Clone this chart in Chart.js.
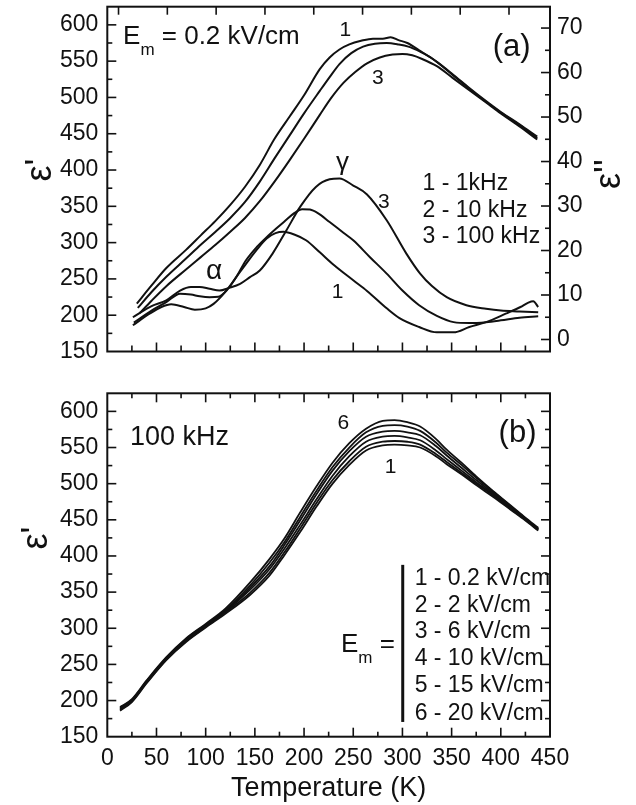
<!DOCTYPE html>
<html>
<head>
<meta charset="utf-8">
<script src="https://cdn.jsdelivr.net/npm/chart.js@4/dist/chart.umd.min.js"></script>
<style>
html,body{margin:0;padding:0;background:#fff;}
#wrap{position:relative;width:636px;height:805px;overflow:hidden;background:#fff;}
canvas{position:absolute;left:0;}
</style>
</head>
<body>
<div id="wrap">
<canvas id="ca" width="636" height="380" style="top:0;width:636px;height:380px"></canvas>
<canvas id="cb" width="636" height="425" style="top:380px;width:636px;height:425px"></canvas>
</div>
<script>
// ================= DATA =================
// tick labels
const tempTicks = [0, 50, 100, 150, 200, 250, 300, 350, 400, 450];
const epsRealTicks = [150, 200, 250, 300, 350, 400, 450, 500, 550, 600];
const epsImagTicks = [0, 10, 20, 30, 40, 50, 60, 70];

// Panel (a), Em = 0.2 kV/cm : eps' (left axis)
const tA_re1 = [30, 45, 60, 80, 95, 110, 125, 140, 155, 170, 185, 200, 216, 226, 236, 246, 258, 270, 280, 288, 296, 305, 317, 335, 351, 368, 385, 400, 419, 437];
const epsRe_1kHz = [216, 241, 265, 290, 310, 330, 352, 377, 407, 443, 473, 503, 539, 555, 566, 573, 578, 581, 581, 583, 579, 575, 565, 549, 532, 513, 495, 480, 463, 446];
const tA_re2 = [31, 45, 60, 80, 95, 110, 125, 140, 155, 170, 185, 200, 216, 226, 236, 248, 260, 272, 284, 296, 306, 318, 330, 351, 368, 385, 400, 419, 437];
const epsRe_10kHz = [210, 232, 253, 278, 297, 315, 334, 356, 384, 416, 447, 478, 509, 528, 546, 561, 570, 574, 575, 573, 570, 563, 554, 531, 512, 494, 479, 462, 444];
const tA_re3 = [33, 45, 60, 80, 95, 110, 125, 140, 155, 170, 185, 200, 216, 228, 240, 252, 264, 277, 290, 300, 310, 320, 335, 351, 368, 385, 400, 419, 437];
const epsRe_100kHz = [203, 220, 240, 263, 280, 297, 315, 334, 357, 384, 413, 443, 476, 500, 520, 535, 547, 555, 559, 560, 558, 553, 543, 527, 510, 493, 478, 460, 442];

// Panel (a) : eps'' (right axis)
const tA_im1 = [26, 43, 55, 65, 78, 89, 100, 108, 121, 131, 141, 152, 162, 171, 179, 190, 202, 216, 230, 250, 264, 284, 297, 317, 335, 352, 368, 385, 405, 420, 428, 433, 438];
const epsIm_1kHz = [3.2, 5.8, 7.3, 7.9, 7.3, 6.7, 7.0, 8.0, 11.0, 14.0, 17.0, 20.2, 22.7, 23.9, 24.2, 23.6, 22.3, 19.6, 16.8, 13.3, 10.9, 7.0, 4.8, 2.8, 1.6, 1.6, 2.8, 3.9, 5.8, 7.3, 8.3, 8.6, 7.3];
const tA_im2 = [27, 45, 60, 74, 85, 94, 104, 113, 122, 131, 141, 152, 162, 172, 182, 190, 198, 206, 214, 226, 240, 250, 267, 284, 300, 317, 335, 352, 368, 385, 400, 419, 438];
const epsIm_10kHz = [3.8, 6.5, 8.4, 10.3, 10.1, 9.7, 9.5, 9.6, 11.2, 14.0, 17.8, 20.8, 23.0, 25.0, 26.9, 28.4, 29.3, 29.2, 28.4, 26.4, 24.0, 22.3, 18.5, 14.8, 11.0, 7.7, 5.3, 3.9, 3.7, 3.9, 4.3, 4.9, 5.2];
const tA_im3 = [26, 45, 60, 74, 85, 94, 104, 114, 124, 135, 145, 155, 168, 182, 196, 212, 226, 236, 250, 264, 284, 304, 318, 330, 345, 365, 385, 400, 419, 438];
const epsIm_100kHz = [5.0, 7.5, 8.8, 11.0, 11.8, 11.8, 11.4, 11.0, 11.6, 12.5, 14.0, 15.5, 19.3, 24.5, 29.8, 34.3, 36.0, 36.2, 34.6, 32.6, 26.8, 19.3, 14.8, 12.0, 9.5, 7.7, 6.9, 6.5, 6.3, 6.1];

// Panel (b), 100 kHz : eps' for different Em
const tB = [13, 25, 40, 60, 80, 100, 120, 145, 165, 180, 196, 213, 229, 246, 263, 280, 292, 305, 318, 334, 345, 360, 375, 392, 410, 425, 438];
const epsB_0_2 = [186, 198, 224, 256, 281, 301, 320, 346, 373, 401, 433, 469, 500, 526, 546, 553, 554, 553, 550, 538, 527, 513, 498, 482, 464, 449, 435];
const epsB_2   = [187, 199, 225, 257, 282, 302, 322, 349, 377, 405, 438, 474, 505, 531, 551, 558, 559, 558, 554, 541, 530, 515, 500, 484, 465, 450, 436];
const epsB_6   = [188, 200, 226, 258, 283, 303, 323, 353, 382, 410, 443, 479, 511, 538, 558, 565, 566, 564, 560, 546, 534, 518, 502, 485, 466, 451, 437];
const epsB_10  = [189, 200, 226, 258, 284, 304, 324, 356, 386, 415, 449, 486, 518, 545, 565, 572, 573, 571, 567, 552, 539, 522, 505, 487, 467, 451, 437];
const epsB_15  = [190, 201, 227, 259, 285, 305, 325, 359, 391, 419, 454, 491, 523, 550, 571, 580, 581, 579, 573, 557, 543, 526, 508, 489, 469, 452, 438];
const epsB_20  = [191, 202, 228, 260, 286, 306, 327, 363, 396, 424, 460, 497, 529, 556, 576, 587, 588, 585, 579, 562, 547, 529, 510, 490, 470, 453, 439];

// ================= RENDERING =================
const FONT = '"Liberation Sans", Arial, Helvetica, sans-serif';
const INK = '#111';
Chart.defaults.font.family = FONT;
Chart.defaults.color = INK;

const pts = (ts, vs) => ts.map((t, i) => ({x: t, y: vs[i]}));
const line = (ts, vs, yAxis, w) => ({
  data: pts(ts, vs), xAxisID: 'x', yAxisID: yAxis,
  borderColor: INK, borderWidth: w || 2, pointRadius: 0,
  cubicInterpolationMode: 'monotone', fill: false
});

const framePlugin = {
  id: 'frame',
  afterDatasetsDraw(chart, args, o) {
    const ctx = chart.ctx, a = chart.chartArea;
    ctx.save();
    ctx.strokeStyle = INK;
    ctx.lineWidth = 1.6;
    (o.marks || []).forEach(m => {
      const s = chart.scales[m.scale];
      for (let v = m.from; v <= m.to + 1e-9; v += m.step) {
        const r = v / m.major;
        const len = Math.abs(r - Math.round(r)) < 1e-6 ? m.long : m.short;
        const p = s.getPixelForValue(v);
        ctx.beginPath();
        if (m.side === 'bottom') { ctx.moveTo(p, a.bottom); ctx.lineTo(p, a.bottom - len); }
        else if (m.side === 'top') { ctx.moveTo(p, a.top); ctx.lineTo(p, a.top + len); }
        else if (m.side === 'left') { ctx.moveTo(a.left, p); ctx.lineTo(a.left + len, p); }
        else { ctx.moveTo(a.right, p); ctx.lineTo(a.right - len, p); }
        ctx.stroke();
      }
    });
    ctx.lineWidth = 2;
    ctx.strokeRect(a.left, a.top, a.width, a.height);
    ctx.restore();
  }
};

const notesPlugin = {
  id: 'notes',
  afterDraw(chart, args, o) {
    const ctx = chart.ctx, a = chart.chartArea;
    const xs = chart.scales.x, ys = chart.scales.y;
    ctx.save();
    ctx.fillStyle = INK;
    ctx.strokeStyle = INK;
    (o.items || []).forEach(it => {
      let px = xs.getPixelForValue(it.x), py = ys.getPixelForValue(it.y);
      if (it.parts) {
        ctx.textAlign = 'left';
        ctx.textBaseline = 'alphabetic';
        it.parts.forEach(p => {
          ctx.font = p.size + 'px ' + FONT;
          ctx.fillText(p.t, px, py + (p.dy || 0));
          px += ctx.measureText(p.t).width;
        });
      } else {
        ctx.textAlign = it.align || 'left';
        ctx.textBaseline = it.base || 'alphabetic';
        ctx.font = it.size + 'px ' + FONT;
        ctx.fillText(it.text, px, py);
      }
    });
    (o.bars || []).forEach(b => {
      ctx.lineWidth = b.w;
      ctx.beginPath();
      ctx.moveTo(xs.getPixelForValue(b.x), ys.getPixelForValue(b.y1));
      ctx.lineTo(xs.getPixelForValue(b.x), ys.getPixelForValue(b.y2));
      ctx.stroke();
    });
    (o.vtitles || []).forEach(t => {
      const cx = t.side === 'left' ? a.left + t.dx : a.right + t.dx;
      const cy = (a.top + a.bottom) / 2 + t.dy;
      ctx.save();
      ctx.translate(cx, cy);
      ctx.rotate(-Math.PI / 2);
      ctx.textAlign = 'center';
      ctx.textBaseline = 'middle';
      ctx.font = t.size + 'px ' + FONT;
      ctx.fillText(t.text, 0, 0);
      ctx.restore();
    });
    ctx.restore();
  }
};

const tickFont = {family: FONT, size: 23};
const hidden = {display: false, drawTicks: false};
const noBorder = {display: false};
const setTicks = arr => s => { s.ticks = arr.map(v => ({value: v})); };

// ---------- Chart (a) ----------
new Chart(document.getElementById('ca'), {
  type: 'line',
  data: {
    datasets: [
      line(tA_re1, epsRe_1kHz, 'y'),
      line(tA_re2, epsRe_10kHz, 'y'),
      line(tA_re3, epsRe_100kHz, 'y'),
      line(tA_im1, epsIm_1kHz, 'y2'),
      line(tA_im2, epsIm_10kHz, 'y2'),
      line(tA_im3, epsIm_100kHz, 'y2')
    ]
  },
  options: {
    responsive: false, animation: false, devicePixelRatio: 1,
    layout: {padding: 0},
    plugins: {
      legend: {display: false}, tooltip: {enabled: false},
      frame: {marks: [
        {scale: 'x', side: 'bottom', from: 25, to: 425, step: 25, major: 50, long: 9, short: 6},
        {scale: 'x2', side: 'top', from: 0, to: 400, step: 50, major: 50, long: 8, short: 8},
        {scale: 'y', side: 'left', from: 175, to: 600, step: 25, major: 50, long: 9, short: 5},
        {scale: 'y2', side: 'right', from: 0, to: 70, step: 5, major: 10, long: 9, short: 5}
      ]},
      notes: {
        items: [
          {parts: [{t: 'E', size: 26}, {t: 'm', size: 17, dy: 11}, {t: ' = 0.2 kV/cm', size: 26}], x: 16, y: 573},
          {text: '(a)', x: 411, y: 569, size: 31, align: 'center', base: 'middle'},
          {text: '1', x: 242, y: 592, size: 21, align: 'center', base: 'middle'},
          {text: '3', x: 275, y: 526, size: 21, align: 'center', base: 'middle'},
          {text: 'γ', x: 239, y: 410, size: 26, align: 'center', base: 'middle'},
          {text: '3', x: 281, y: 356, size: 21, align: 'center', base: 'middle'},
          {text: '1', x: 234, y: 231, size: 21, align: 'center', base: 'middle'},
          {text: 'α', x: 108.5, y: 260, size: 28, align: 'center', base: 'middle'},
          {text: '1 - 1kHz', x: 320.5, y: 373, size: 23},
          {text: '2 - 10 kHz', x: 320.5, y: 335.7, size: 23},
          {text: '3 - 100 kHz', x: 320.5, y: 299.8, size: 23}
        ],
        vtitles: [
          {text: "ε'", side: 'left', dx: -66, dy: -9, size: 36},
          {text: "ε''", side: 'right', dx: 60, dy: -5, size: 36}
        ]
      }
    },
    scales: {
      x: {type: 'linear', position: 'bottom', min: 0, max: 450,
          ticks: {display: false}, grid: hidden, border: noBorder,
          afterFit: s => { s.height = 28.5; s.paddingLeft = 0; s.paddingRight = 0; }},
      x2: {type: 'linear', position: 'top', min: -11.5, max: 442,
          ticks: {display: false}, grid: hidden, border: noBorder,
          afterFit: s => { s.height = 6.7; s.paddingLeft = 0; s.paddingRight = 0; }},
      y: {type: 'linear', position: 'left', min: 150, max: 625,
          afterBuildTicks: setTicks(epsRealTicks),
          ticks: {font: tickFont, color: INK, padding: 9},
          grid: hidden, border: noBorder,
          afterFit: s => { s.width = 107.3; s.paddingTop = 0; s.paddingBottom = 0; }},
      y2: {type: 'linear', position: 'right', min: -2.7, max: 74.8,
          afterBuildTicks: setTicks(epsImagTicks),
          ticks: {font: tickFont, color: INK, padding: 7},
          grid: hidden, border: noBorder,
          afterFit: s => { s.width = 86; s.paddingTop = 0; s.paddingBottom = 0; }}
    }
  },
  plugins: [framePlugin, notesPlugin]
});

// ---------- Chart (b) ----------
new Chart(document.getElementById('cb'), {
  type: 'line',
  data: {
    datasets: [
      line(tB, epsB_0_2, 'y', 1.8),
      line(tB, epsB_2, 'y', 1.8),
      line(tB, epsB_6, 'y', 1.8),
      line(tB, epsB_10, 'y', 1.8),
      line(tB, epsB_15, 'y', 1.8),
      line(tB, epsB_20, 'y', 1.8)
    ]
  },
  options: {
    responsive: false, animation: false, devicePixelRatio: 1,
    layout: {padding: {top: 13.3, right: 86, left: 0, bottom: 0}},
    plugins: {
      legend: {display: false}, tooltip: {enabled: false},
      frame: {marks: [
        {scale: 'x', side: 'bottom', from: 25, to: 425, step: 25, major: 50, long: 9, short: 5},
        {scale: 'x', side: 'top', from: 25, to: 425, step: 25, major: 50, long: 9, short: 5},
        {scale: 'y', side: 'left', from: 175, to: 600, step: 25, major: 50, long: 9, short: 5},
        {scale: 'y', side: 'right', from: 175, to: 600, step: 25, major: 50, long: 9, short: 5}
      ]},
      notes: {
        items: [
          {text: '100 kHz', x: 23, y: 554, size: 27},
          {text: '(b)', x: 417, y: 569, size: 31, align: 'center', base: 'middle'},
          {text: '6', x: 240, y: 584, size: 21, align: 'center', base: 'middle'},
          {text: '1', x: 288, y: 523, size: 21, align: 'center', base: 'middle'},
          {parts: [{t: 'E', size: 26}, {t: 'm', size: 17, dy: 11}, {t: ' =', size: 26}], x: 237.5, y: 267.3},
          {text: '1 - 0.2 kV/cm', x: 312.4, y: 360, size: 23},
          {text: '2 - 2 kV/cm', x: 312.4, y: 322.7, size: 23},
          {text: '3 - 6 kV/cm', x: 312.4, y: 286.7, size: 23},
          {text: '4 - 10 kV/cm', x: 312.4, y: 249.3, size: 23},
          {text: '5 - 15 kV/cm', x: 312.4, y: 211.9, size: 23},
          {text: '6 - 20 kV/cm', x: 312.4, y: 173.1, size: 23}
        ],
        bars: [{x: 300.3, y1: 387.7, y2: 170.4, w: 3}],
        vtitles: [
          {text: "ε'", side: 'left', dx: -70, dy: -27, size: 36}
        ]
      }
    },
    scales: {
      x: {type: 'linear', position: 'bottom', min: 0, max: 450,
          afterBuildTicks: setTicks(tempTicks),
          ticks: {font: tickFont, color: INK, padding: 8, autoSkip: false, maxRotation: 0},
          title: {display: true, text: 'Temperature (K)', color: INK,
                  font: {family: FONT, size: 27}, padding: {top: 0, bottom: 0}},
          grid: hidden, border: noBorder,
          afterFit: s => { s.height = 68.3; s.paddingLeft = 0; s.paddingRight = 0; }},
      y: {type: 'linear', position: 'left', min: 150, max: 625,
          afterBuildTicks: setTicks(epsRealTicks),
          ticks: {font: tickFont, color: INK, padding: 9},
          grid: hidden, border: noBorder,
          afterFit: s => { s.width = 107.3; s.paddingTop = 0; s.paddingBottom = 0; }}
    }
  },
  plugins: [framePlugin, notesPlugin]
});
</script>
</body>
</html>
